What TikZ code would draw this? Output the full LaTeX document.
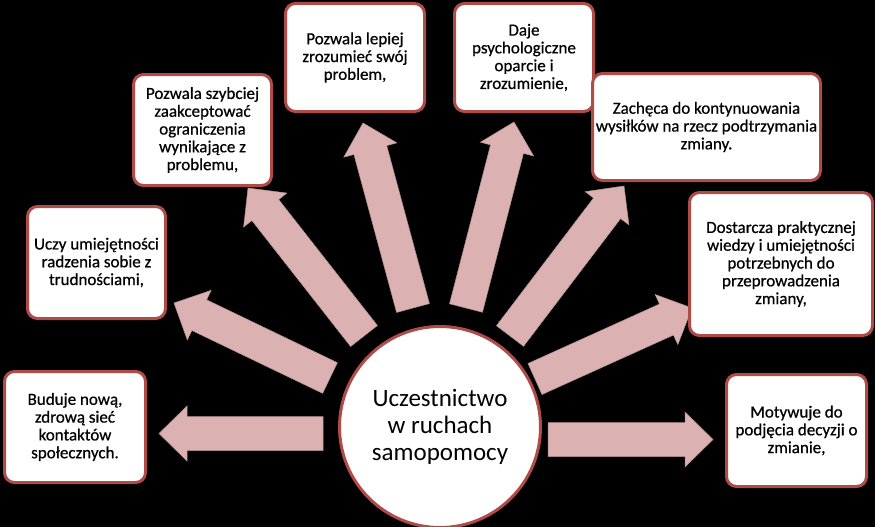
\documentclass[tikz,border=0pt]{standalone}
\usepackage{fontspec}
\setmainfont{Carlito}
\newfontfamily\boxfont{Carlito}[FakeBold=0.6,BoldFont={Carlito},BoldFeatures={FakeBold=0.6}]
\usetikzlibrary{calc}
\definecolor{bordred}{RGB}{176,76,72}
\definecolor{arrowpink}{RGB}{219,177,178}
\definecolor{arrowedge}{RGB}{180,145,145}
\tikzset{
  box/.style={draw=bordred, line width=3pt, fill=white, rounded corners=10pt,
    align=center, inner sep=0pt, text=black, font=\boxfont\bfseries\fontsize{17}{17.8}\selectfont},
  hub/.style={circle, draw=bordred, line width=3pt, fill=white, align=center,
    inner sep=0pt, minimum size=201pt, text=black, font=\fontsize{25}{27}\selectfont},
  blockarrow/.style={fill=arrowpink, draw=arrowedge, line width=0.5pt, line join=miter}
}
\newcommand\blockarrow[2]{%
  \coordinate (ba-base) at ($(#2)!28pt!(#1)$);
  \draw[blockarrow] ($(#1)!17pt!90:(#2)$) -- ($(ba-base)!17pt!90:(#2)$)
    -- ($(ba-base)!27.5pt!90:(#2)$) -- (#2) -- ($(ba-base)!27.5pt!-90:(#2)$)
    -- ($(ba-base)!17pt!-90:(#2)$) -- ($(#1)!17pt!-90:(#2)$) -- cycle;
}
\begin{document}
\begin{tikzpicture}[x=1pt,y=-1pt]
\useasboundingbox (0,0) rectangle (875,527);
\fill[black] (0,0) rectangle (875,527);

% arrow tails and tips
\coordinate (t1) at (323,433.5); \coordinate (h1) at (159,433.5);
\coordinate (t2) at (330,378);   \coordinate (h2) at (174,303);
\coordinate (t3) at (364,336);   \coordinate (h3) at (248,188);
\coordinate (t4) at (413,308);   \coordinate (h4) at (363,123);
\coordinate (t5) at (466,308);   \coordinate (h5) at (514,122);
\coordinate (t6) at (510,336);   \coordinate (h6) at (624,186);
\coordinate (t7) at (535,379);   \coordinate (h7) at (692,308);
\coordinate (t8) at (548,439.5); \coordinate (h8) at (713,439.5);

\blockarrow{t1}{h1}
\blockarrow{t2}{h2}
\blockarrow{t3}{h3}
\blockarrow{t4}{h4}
\blockarrow{t5}{h5}
\blockarrow{t6}{h6}
\blockarrow{t7}{h7}
\blockarrow{t8}{h8}

\node[hub] (hub) at (440,427) {Uczestnictwo\\w ruchach\\samopomocy};

\node[box, minimum width=141pt, minimum height=111pt] (b1) at (75,427)
  {Buduje nową,\\zdrową sieć\\kontaktów\\społecznych.};
\node[box, minimum width=138pt, minimum height=112pt] (b2) at (96.5,262.5)
  {Uczy umiejętności\\radzenia sobie z\\trudnościami,};
\node[box, minimum width=138pt, minimum height=111pt] (b3) at (202.5,130)
  {Pozwala szybciej\\zaakceptować\\ograniczenia\\wynikające z\\problemu,};
\node[box, minimum width=139pt, minimum height=108pt] (b4) at (355,57.5)
  {Pozwala lepiej\\zrozumieć swój\\problem,};
\node[box, minimum width=139pt, minimum height=108pt] (b5) at (524,57.5)
  {Daje\\psychologiczne\\oparcie i\\zrozumienie,};
\node[box, minimum width=228pt, minimum height=107pt] (b6) at (706.5,127)
  {Zachęca do kontynuowania\\wysiłków na rzecz podtrzymania\\zmiany.};
\node[box, minimum width=183pt, minimum height=143pt] (b7) at (781,264)
  {Dostarcza praktycznej\\wiedzy i umiejętności\\potrzebnych do\\przeprowadzenia\\zmiany,};
\node[box, minimum width=140pt, minimum height=112pt] (b8) at (796.5,430.5)
  {Motywuje do\\podjęcia decyzji o\\zmianie,};
\end{tikzpicture}
\end{document}
